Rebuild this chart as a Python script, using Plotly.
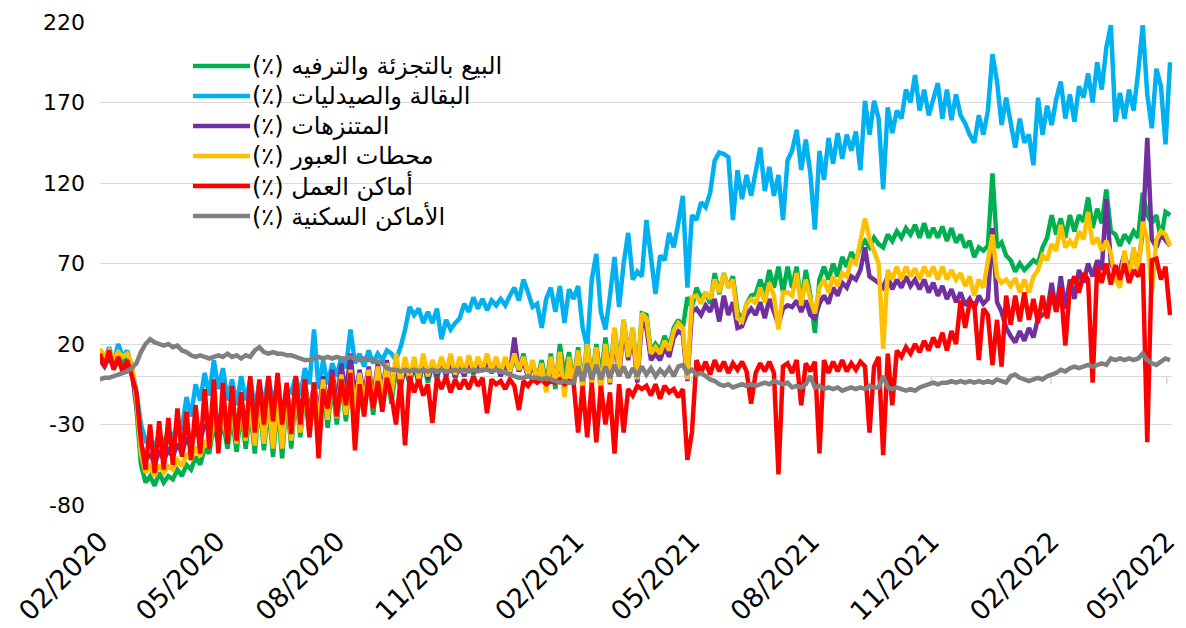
import plotly.graph_objects as go
import pandas as pd

# ---------------- data (one point every 3.5 days) ----------------
start_date = "2020-02-15"
step = "84h"

retail = [
    14, 10, 15, 9, 13, 8, 12, 5,
    -20, -55, -66, -62, -68, -60, -66, -62,
    -64, -58, -62, -55, -58, -50, -55, -45,
    -48, -30, -42, -28, -45, -25, -47, -22,
    -45, -20, -48, -15, -46, -18, -50, -16,
    -51, -12, -45, -10, -38, -8, -36, -10,
    -35, -6, -32, -4, -30, -3, -28, 0,
    -25, -2, -22, 0, -24, 2, -18, 3,
    -17, 5, -8, 8, -5, 9, -6, 10,
    -4, 8, -2, 10, 0, 12, -1, 10,
    0, 12, 1, 10, 3, 12, 2, 11,
    0, 10, 2, 12, 3, 14, 0, 8,
    -2, 10, -5, 14, -8, 20, 0, 15,
    -4, 18, -6, 22, -3, 20, -2, 24,
    0, 30, 5, 35, 14, 30, -2, 39,
    38, 15, 20, 16, 25, 18, 30, 35,
    30, 49, 43, 55, 48, 52, 45, 64,
    51, 64, 55, 62, 40, 35, 45, 50,
    51, 60, 52, 66, 55, 68, 52, 68,
    55, 68, 45, 66, 50, 27, 60, 68,
    60, 70, 62, 74, 68, 77, 72, 80,
    84, 80, 86, 82, 80, 88, 84, 90,
    86, 92, 88, 94, 86, 95, 86, 92,
    86, 93, 84, 92, 83, 88, 80, 84,
    74, 80, 78, 81, 126, 80, 83, 75,
    72, 65, 70, 66, 69, 72, 70, 80,
    86, 100, 88, 98, 86, 100, 90, 100,
    96, 111, 92, 104, 95, 116, 90, 88,
    81, 88, 84, 90, 86, 114, 100, 95,
    100, 85, 102, 100,
]

grocery = [
    15, 10, 18, 8, 20, 12, 16, 5,
    -10, -30, -40, -38, -44, -36, -42, -34,
    -38, -30, -32, -13, -25, -5, -15, 2,
    -12, 10, -8, 5, -15, -2, -18, 0,
    -15, -2, -20, -4, -18, 0, -17, -5,
    -25, -8, -10, 0, -12, 5, -5, 29,
    -8, 10, -5, 8, 0, 12, 5, 29,
    8, 14, 6, 16, 8, 14, 10, 16,
    14, 10, 18, 29, 43, 38, 42, 33,
    40, 33, 42, 23, 35, 29, 33, 36,
    45, 40, 49, 42, 48, 41, 47, 44,
    48, 44, 50, 55, 47, 60, 52, 43,
    45, 30, 48, 55, 40, 56, 33, 54,
    48, 56, 30, 18, 60, 76, 40, 29,
    50, 74, 43, 70, 89, 60, 65, 62,
    97, 72, 51, 75, 72, 89, 80, 95,
    112, 55, 100, 97, 108, 105, 114, 134,
    139, 138, 136, 97, 128, 110, 125, 112,
    128, 142, 115, 130, 112, 125, 97, 134,
    140, 153, 128, 147, 126, 91, 140, 122,
    148, 132, 151, 135, 150, 140, 152, 128,
    171, 150, 171, 160, 116, 167, 151, 165,
    160, 178, 170, 187, 165, 178, 162, 173,
    182, 160, 178, 159, 175, 162, 157, 150,
    145, 162, 150, 165, 200, 183, 156, 173,
    156, 142, 160, 145, 150, 131, 173, 150,
    168, 156, 172, 183, 160, 175, 158, 180,
    173, 188, 170, 195, 178, 204, 218, 158,
    176, 160, 178, 165, 189, 218, 175, 154,
    191, 180, 144, 195,
]

parks = [
    10, 6, 12, 5, 10, 4, 8, 2,
    -18, -42, -52, -48, -55, -46, -52, -46,
    -50, -42, -48, -38, -44, -32, -40, -30,
    -34, -20, -30, -18, -34, -16, -36, -14,
    -33, -12, -36, -10, -35, -12, -38, -10,
    -38, -6, -33, -4, -28, -2, -26, -4,
    -24, 0, -20, 4, -18, 8, -12, 14,
    -14, 4, -12, 6, -14, 8, -10, 10,
    -10, 8, -6, 6, -4, 8, -4, 10,
    -2, 8, 0, 10, 0, 10, -1, 8,
    0, 10, 2, 8, 3, 10, 2, 9,
    0, 8, 2, 24, 3, 10, -1, 8,
    -3, 8, -8, 10, -5, 12, -10, 10,
    -5, 14, -7, 16, -4, 15, -8, 18,
    -5, 26, 0, 30, 10, 26, -4, 34,
    30, 10, 14, 10, 18, 12, 24, 28,
    26, -3, 40, 42, 38, 44, 40, 48,
    34, 50, 38, 46, 30, 31, 38, 42,
    38, 46, 36, 48, 40, 32, 42, 44,
    43, 47, 40, 47, 38, 36, 45, 50,
    45, 55, 50, 58, 55, 62, 60, 66,
    80, 62, 60, 58, 55, 62, 54, 60,
    55, 62, 56, 60, 54, 60, 52, 58,
    50, 56, 48, 54, 46, 52, 44, 48,
    42, 50, 45, 48, 92, 46, 40, 30,
    25, 21, 28, 22, 30, 24, 36, 38,
    40, 58, 40, 62, 42, 60, 48, 66,
    58, 70, 62, 72, 66, 110, 70, 64,
    66, 76, 64, 78, 68, 90, 148, 85,
    80, 88, 84, 81,
]

transit = [
    17, 12, 16, 11, 15, 12, 14, 8,
    -15, -48, -60, -56, -62, -55, -60, -56,
    -58, -52, -56, -48, -52, -44, -50, -40,
    -44, -26, -38, -24, -40, -20, -42, -18,
    -40, -16, -43, -12, -42, -14, -45, -12,
    -45, -8, -40, -6, -35, -4, -32, -6,
    -30, -2, -27, 0, -26, 1, -24, 4,
    -21, 2, -18, 4, -20, 6, -14, 8,
    -12, 14, -4, 12, -2, 12, -2, 14,
    0, 10, 2, 12, 2, 14, 1, 12,
    2, 13, 3, 12, 4, 14, 3, 12,
    2, 12, 3, 14, 4, 12, 1, 10,
    -3, 8, -10, 12, -5, 15, -13, 12,
    -6, 16, -8, 20, -5, 18, -10, 20,
    -4, 30, 2, 35, 12, 30, -2, 39,
    36, 14, 18, 14, 22, 16, 28, 33,
    30, -2, 49, 50, 45, 52, 48, 60,
    52, 64, 55, 60, 36, 34, 45, 48,
    45, 55, 46, 58, 50, 29, 52, 52,
    50, 64, 44, 60, 48, 39, 55, 60,
    52, 62, 56, 64, 62, 72, 70, 86,
    98, 85, 78, 70, 17, 66, 60, 68,
    60, 68, 62, 67, 60, 68, 62, 68,
    60, 68, 60, 66, 60, 64, 56, 62,
    50, 60, 55, 70, 88, 62, 58, 60,
    56, 61, 52, 60, 52, 62, 66, 75,
    72, 82, 78, 94, 80, 84, 80, 90,
    85, 102, 82, 86, 78, 84, 76, 60,
    55, 78, 58, 80, 62, 96, 85, 52,
    85, 90, 88, 81,
]

workplaces = [
    14, 6, 16, 4, 12, 2, 10, 0,
    -10, -40, -58, -30, -60, -28, -58, -26,
    -55, -20, -50, -22, -52, -18, -48, -8,
    -45, -2, -48, -4, -42, -6, -40, -10,
    -38, 0, -35, -2, -30, 0, -28, 2,
    -30, -4, -36, 0, -30, -2, -38, -4,
    -51, -8, -20, 0, -25, -2, -18, 2,
    -46, -5, -25, 0, -20, -3, -22, -1,
    -12, -30, -2, -43, 0, -10, -2, -12,
    -5, -29, -1, -8, 0, -10, -2, -8,
    -2, -8, 0, -6, -1, -23, -2, -5,
    -3, -8, -2, -6, -21, -3, -6, -2,
    -4, -2, -5, -3, -4, -2, -5, -3,
    -4, -35, -6, -38, -4, -41, -6, -30,
    -10, -48, -5, -35, -8, -12, -6, -8,
    -6, -12, -5, -14, -6, -10, -8, -13,
    -8, -52, -35, 10, 2, 9, 1, 10,
    3, 9, 2, 8, 4, 9, 3, -17,
    2, 8, 3, 9, 2, -61, 6, 8,
    2, 10, -18, 8, 3, 9, -48, 10,
    2, 9, 3, 10, 3, 8, 4, 9,
    6, -35, 6, 12, -49, 14, -18, 16,
    12, 18, 14, 20, 15, 22, 16, 24,
    18, 27, 16, 28, 20, 47, 30, 46,
    45, 10, 42, 38, 7, 35, 6, 50,
    32, 50, 34, 52, 35, 48, 33, 50,
    36, 52, 40, 55, 19, 55, 62, 52,
    64, 60, -4, 68, 58, 70, 57, 69,
    60, 70, 58, 66, 62, 70, -41, 72,
    73, 60, 68, 38,
]

residential = [
    -2, -1, -1, 0, 1, 2, 3, 5,
    8, 15, 20, 23, 21, 20, 19, 20,
    18, 19, 16, 15, 13, 12, 13, 12,
    11, 12, 13, 12, 14, 12, 13, 11,
    13, 12, 16, 18, 15, 14, 15, 14,
    14, 13, 13, 12, 11, 10, 10, 11,
    12, 11, 12, 11, 12, 11, 11, 12,
    11, 10, 11, 10, 10, 9, 8, 5,
    4, 4, 3, 4, 3, 4, 3, 4,
    3, 4, 3, 4, 3, 3, 4, 3,
    4, 3, 4, 3, 4, 4, 3, 4,
    3, 2, 1, 0, -1, -1, 0, -1,
    -1, -2, -1, -2, -3, -4, -3, -4,
    -4, 6, -3, 8, -2, 7, -2, 6,
    -1, 7, 0, 6, -1, 5, 0, 6,
    1, 5, 0, 4, 1, 5, 0, 6,
    7, 2, 4, 1, 2, 0, -2, -3,
    -5, -6, -5, -7, -6, -5, -6, -5,
    -6, -5, -4, -5, -3, -4, -5, -4,
    -7, -6, -7, -5, 0, -7, -6, -8,
    -7, -8, -7, -9, -8, -7, -8, -7,
    -8, -6, -7, -7, 0, -7, -8, -7,
    -8, -9, -8, -9, -7, -6, -5, -4,
    -5, -4, -4, -3, -4, -3, -4, -3,
    -4, -3, -4, -3, -4, -2, -3, -4,
    0, 1, -1, -2, -3, -2, -1, -2,
    0, 1, 2, 4, 3, 5, 6, 5,
    6, 7, 6, 7, 8, 7, 11, 10,
    11, 10, 11, 10, 11, 14, 10, 8,
    7, 9, 11, 10,
]

series_names = [
    "البيع بالتجزئة والترفيه",
    "البقالة والصيدليات",
    "المتنزهات",
    "محطات العبور",
    "أماكن العمل",
    "الأماكن السكنية",
]
series_values = [retail, grocery, parks, transit, workplaces, residential]
series_colors = ["#00B050", "#00B0F0", "#7030A0", "#FFC000", "#FF0000", "#808080"]

tick_dates = ["2020-02-15", "2020-05-15", "2020-08-15", "2020-11-15", "2021-02-15",
              "2021-05-15", "2021-08-15", "2021-11-15", "2022-02-15", "2022-05-15"]
tick_labels = ["02/2020", "05/2020", "08/2020", "11/2020", "02/2021",
               "05/2021", "08/2021", "11/2021", "02/2022", "05/2022"]
y_ticks = [-80, -30, 20, 70, 120, 170, 220]
y_tick_labels = ["-80", "-30", "20", "70", "120", "170", "220"]

# ---------------- figure ----------------
# the page body adds an 8px offset, so the figure is 8px smaller than the window
W, H = 1178, 620
ML, MR, MT, MB = 92, 14, 14, 123
PW, PH = W - ML - MR, H - MT - MB

fig = go.Figure()
for name, vals, color in zip(series_names, series_values, series_colors):
    x = pd.date_range(start_date, periods=len(vals), freq=step)
    fig.add_trace(go.Scatter(
        x=x, y=vals, mode="lines", name=name, showlegend=False,
        line=dict(color=color, width=4.5),
    ))

shapes = []
annotations = []
# small tick marks on the zero axis
for d in tick_dates:
    shapes.append(dict(type="line", xref="x", yref="y", x0=d, x1=d, y0=0, y1=-5,
                       line=dict(color="#BFBFBF", width=1), layer="below"))

# legend drawn manually (long sample lines); positions in window pixels
OFF = 8

def px_x(p):
    return (p - OFF - ML) / PW

def px_y(p):
    return (MT + PH - (p - OFF)) / PH

for i, (name, color) in enumerate(zip(series_names, series_colors)):
    yc = 66 + 30 * i
    shapes.append(dict(type="line", xref="paper", yref="paper",
                       x0=px_x(193), x1=px_x(250), y0=px_y(yc), y1=px_y(yc),
                       line=dict(color=color, width=4.5)))
    annotations.append(dict(xref="paper", yref="paper", x=px_x(250), y=px_y(yc),
                            xanchor="left", yanchor="middle", showarrow=False,
                            text="(٪) " + name,
                            font=dict(family="DejaVu Sans", size=24, color="black")))

fig.update_layout(
    width=W, height=H,
    margin=dict(l=ML, r=MR, t=MT, b=MB, autoexpand=False),
    paper_bgcolor="white", plot_bgcolor="white",
    shapes=shapes, annotations=annotations,
    showlegend=False,
)
fig.update_xaxes(
    type="date", automargin=False,
    range=["2020-02-15", "2022-05-19"],
    tickmode="array", tickvals=tick_dates, ticktext=tick_labels,
    tickangle=-45,
    tickfont=dict(family="DejaVu Sans", size=27, color="black"),
    ticklabeloverflow="allow",
    showgrid=False, showline=False, zeroline=False, ticks="",
    ticklabelstandoff=14,
)
fig.update_yaxes(
    automargin=False,
    range=[-80, 220],
    tickmode="array", tickvals=y_ticks, ticktext=y_tick_labels,
    tickfont=dict(family="DejaVu Sans", size=22, color="black"),
    showgrid=True, gridcolor="#D9D9D9", gridwidth=1,
    zeroline=True, zerolinecolor="#D9D9D9", zerolinewidth=1,
    showline=False, ticks="",
    ticklabelstandoff=14,
)

fig.write_html("out.html")
